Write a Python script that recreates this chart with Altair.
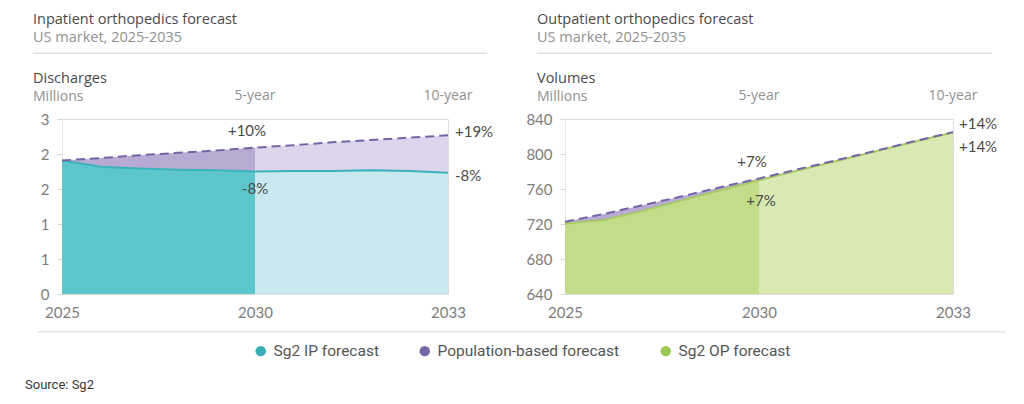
import altair as alt
import pandas as pd

# ---------------- data ----------------
years = list(range(2025, 2036))
ip_forecast = [2.29, 2.18, 2.15, 2.13, 2.12, 2.10, 2.11, 2.11, 2.12, 2.11, 2.08]
ip_population = [2.29, 2.33, 2.38, 2.42, 2.46, 2.51, 2.55, 2.60, 2.64, 2.68, 2.72]
op_forecast = [720.5, 724.5, 735, 747, 758.5, 770, 781, 792, 803, 814, 824.5]
op_population = [722.5, 731.5, 741.5, 751.5, 762, 772, 782.5, 793, 803.5, 814.5, 825]

ip_y_ticks = [0, 0.6, 1.2, 1.8, 2.4, 3.0]
op_y_ticks = [640, 680, 720, 760, 800, 840]
x_tick_values = [2025, 2030, 2035]
x_tick_labels = ["2025", "2030", "2033"]
horizon_years = [2030, 2035]
horizon_labels = ["5-year", "10-year"]

ip_titles = ["Inpatient orthopedics forecast", "US market, 2025-2035", "Discharges", "Millions"]
op_titles = ["Outpatient orthopedics forecast", "US market, 2025-2035", "Volumes", "Millions"]
ip_notes = ["+10%", "+19%", "-8%", "-8%"]
op_notes = ["+7%", "+14%", "+7%", "+14%"]

legend_names = ["Sg2 IP forecast", "Population-based forecast", "Sg2 OP forecast"]
legend_colors = ["#3aadb6", "#7665a5", "#9dc653"]
source_text = "Source: Sg2"

# ---------------- style ----------------
FONT = "Lato"
HEAD_FONT = "Open Sans"
LEGEND_FONT = "Roboto"
DARK = "#4a4a4a"
GREY = "#929292"
TICK = "#7d7d7d"
PURPLE = "#7565a6"

label_expr = " : ".join(
    f"datum.value == {v} ? '{t}'" for v, t in zip(x_tick_values, x_tick_labels)
) + " : ''"


def one(text):
    return alt.Chart(pd.DataFrame({"t": [text]}))


def head(text, size, color, dx, dy):
    return one(text).mark_text(font=HEAD_FONT, fontSize=size, color=color, align="left",
                               baseline="alphabetic").encode(
        text="t:N", x=alt.value(dx), y=alt.value(dy))


def panel(forecast, population, y_min, y_max, y_ticks, y_fmt, width, titles, notes,
          fc_dark, fc_light, fc_line, pop_dark, pop_light, title_dx, rule_x2, note_style,
          extra=()):
    df = pd.DataFrame({"year": years, "forecast": forecast, "population": population})
    x = alt.X("year:Q", scale=alt.Scale(domain=[2025, 2035], nice=False, zero=False),
              axis=alt.Axis(values=x_tick_values, labelExpr=label_expr, title=None, grid=False,
                            domain=False, ticks=False, labelPadding=11, labelFontSize=15,
                            labelColor=TICK, labelFont=FONT, labelFlush=False))
    ys = alt.Scale(domain=[y_min, y_max], nice=False, zero=False)
    yaxis = alt.Axis(values=y_ticks, format=y_fmt, title=None, grid=False, domainColor="#e6e6e6",
                     tickColor="#d4d4d4", tickSize=5, labelPadding=8, labelFontSize=15,
                     labelColor=TICK, labelFont=FONT)
    base = alt.Chart(df)
    early = base.transform_filter(alt.datum.year <= 2030)
    late = base.transform_filter(alt.datum.year >= 2030)

    layers = []
    for part, fcol, pcol in [(early, fc_dark, pop_dark), (late, fc_light, pop_light)]:
        layers.append(part.mark_area(color=fcol, opacity=1).encode(
            x=x, y=alt.Y("forecast:Q", scale=ys, axis=yaxis), y2=alt.Y2Datum(y_min)))
        layers.append(part.mark_area(color=pcol, opacity=1).encode(
            x=x, y=alt.Y("population:Q", scale=ys, axis=yaxis), y2="forecast:Q"))
    layers.append(base.mark_line(color=fc_line, strokeWidth=2).encode(
        x=x, y=alt.Y("forecast:Q", scale=ys, axis=yaxis)))
    layers.append(base.mark_line(color=PURPLE, strokeWidth=2, strokeDash=[9, 5]).encode(
        x=x, y=alt.Y("population:Q", scale=ys, axis=yaxis)))

    # annotations anchored on the series
    for note, (yr, field, align, dx, dy) in zip(notes, note_style):
        layers.append(base.transform_filter(alt.datum.year == yr).mark_text(
            font=FONT, fontSize=15, color=DARK, align=align, baseline="middle", dx=dx, dy=dy
        ).encode(x=x, y=alt.Y(f"{field}:Q", scale=ys, axis=yaxis), text=alt.value(note)))

    # headers
    layers.append(head(titles[0], 14.5, DARK, title_dx, -95.5))
    layers.append(head(titles[1], 14.5, GREY, title_dx, -77.3))
    layers.append(one("r").mark_rule(color="#e3e3e3", strokeWidth=1.5).encode(
        x=alt.value(title_dx), x2=alt.value(rule_x2), y=alt.value(-65.7)))
    layers.append(head(titles[2], 14.5, DARK, title_dx, -36.3))
    layers.append(head(titles[3], 14, GREY, title_dx, -18.5))
    hz = pd.DataFrame({"year": horizon_years, "label": horizon_labels})
    layers.append(alt.Chart(hz).mark_text(font=HEAD_FONT, fontSize=14, color=GREY, align="center",
                                          baseline="alphabetic").encode(
        x=x, y=alt.value(-19), text="label:N"))
    layers.extend(extra)

    return alt.layer(*layers).properties(width=width, height=175)


# ---------------- bottom: separator, legend, source (placed relative to left panel) ----------------
sep = one("r").mark_rule(color="#e6e6e6", strokeWidth=1.5).encode(
    x=alt.value(-24), x2=alt.value(943), y=alt.value(212.7))
src = one(source_text).mark_text(font=LEGEND_FONT, fontSize=13, color="#3a3a3a", align="left",
                                  baseline="alphabetic").encode(
    text="t:N", x=alt.value(-37), y=alt.value(270))
leg = alt.Chart(pd.DataFrame({"series": legend_names})).transform_filter("false").mark_circle(
    opacity=1).encode(
    color=alt.Color("series:N", scale=alt.Scale(domain=legend_names, range=legend_colors),
                    legend=alt.Legend(orient="none", legendX=191, legendY=224,
                                      direction="horizontal", title=None, symbolType="circle",
                                      symbolSize=110, symbolOpacity=1, symbolStrokeWidth=0,
                                      labelFont=LEGEND_FONT, labelFontSize=15.5, labelColor="#555555",
                                      columnPadding=38, labelOffset=5, labelLimit=300)))

left = panel(ip_forecast, ip_population, 0, 3, ip_y_ticks, ".0f", 386, ip_titles, ip_notes,
             "#5dc6cd", "#c8e9ed", "#3bb3bc", "#b8abd3", "#ddd5eb", -29, 425,
             [(2030, "population", "center", -8, -16.5),
              (2035, "population", "left", 7, -3),
              (2030, "forecast", "center", 0, 17),
              (2035, "forecast", "left", 7, 3)],
             extra=(sep, src, leg))

right = panel(op_forecast, op_population, 640, 840, op_y_ticks, "d", 388, op_titles, op_notes,
              "#c3dc8a", "#d8e9b2", "#a7cb62", "#b8abd3", "#ddd5eb", -28, 427,
              [(2030, "population", "center", -7, -16.5),
               (2035, "population", "left", 6, -8),
               (2030, "forecast", "center", 2, 21),
               (2035, "forecast", "left", 6, 14)])

chart = alt.hconcat(left, right, spacing=117, bounds="flush").properties(
    autosize=alt.AutoSizeParams(type="none"),
    padding={"left": 62, "top": 119, "right": 962, "bottom": 285},
).configure_view(stroke=None).configure(background="white")

chart.save("out.html", embed_options={"renderer": "svg", "actions": False})
